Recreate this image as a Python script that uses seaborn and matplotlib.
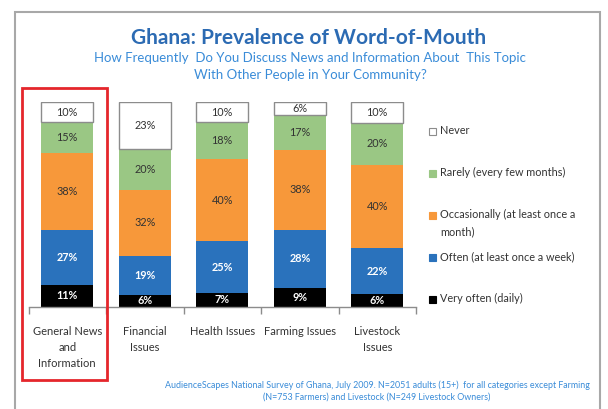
import numpy as np
import pandas as pd
import matplotlib.pyplot as plt
from matplotlib.patches import Rectangle
import seaborn as sns

# data (percent of respondents)
topics = ['General News\nand\nInformation', 'Financial\nIssues', 'Health Issues',
          'Farming Issues', 'Livestock\nIssues']
very_often = [11, 6, 7, 9, 6]
often = [27, 19, 25, 28, 22]
occasionally = [38, 32, 40, 38, 40]
rarely = [15, 20, 18, 17, 20]
never = [10, 23, 10, 6, 10]

series_names = ['Very often (daily)', 'Often (at least once a week)',
                'Occasionally (at least once a\nmonth)', 'Rarely (every few months)', 'Never']
colors = ['#000000', '#2A72BC', '#F7983A', '#9AC784', '#FFFFFF']
label_colors = ['white', 'white', '#333333', '#333333', '#333333']

df = pd.DataFrame({'topic': topics, 'very_often': very_often, 'often': often,
                   'occasionally': occasionally, 'rarely': rarely, 'never': never})
cols = ['very_often', 'often', 'occasionally', 'rarely', 'never']
df['total'] = df[cols].sum(axis=1)

sns.set_theme(style='white')
plt.rcParams['font.family'] = ['Lato', 'DejaVu Sans']

W, H = 608, 409
fig = plt.figure(figsize=(W / 100, H / 100), dpi=100)
ax = fig.add_axes([28.5 / W, (H - 307) / H, 387.5 / W, 205 / H])

# 100% stacked bars
bottom = np.zeros(len(df))
for i, col in enumerate(cols):
    df['share'] = df[col] / df['total'] * 100
    edge = '#8C8C8C' if col == 'never' else colors[i]
    sns.barplot(data=df, x='topic', y='share', order=topics, bottom=bottom,
                color=colors[i], saturation=1, width=0.67,
                edgecolor=edge, linewidth=1.0 if col == 'never' else 0, ax=ax)
    ax.bar_label(ax.containers[-1], labels=[f'{v}%' for v in df[col]],
                 label_type='center', fontsize=7.8, color=label_colors[i],
                 fontweight='bold' if i < 2 else 'normal')
    bottom = bottom + df['share'].to_numpy()

ax.set_ylim(0, 100)
ax.set_xlim(-0.5, 4.5)
ax.set_xlabel('')
ax.set_ylabel('')
ax.set_yticks([])
for s in ['top', 'right', 'left']:
    ax.spines[s].set_visible(False)
ax.spines['bottom'].set_color('#8C8C8C')
ax.spines['bottom'].set_linewidth(1)
ax.set_xticks(np.arange(-0.5, 5, 1), minor=True)
ax.tick_params(axis='x', which='major', length=0, pad=14, labelsize=8, labelcolor='#333333')
ax.tick_params(axis='x', which='minor', length=5, width=1, color='#8C8C8C', bottom=True)
for lbl in ax.get_xticklabels():
    lbl.set_linespacing(1.55)
    lbl.set_verticalalignment('top')

# legend
leg_y = [131, 173, 215, 257, 299]
leg_items = list(zip(series_names, colors))[::-1]
for (name, c), y in zip(leg_items, leg_y):
    ec = '#8C8C8C' if c == '#FFFFFF' else c
    fig.patches.append(Rectangle((429 / W, 1 - (y + 3.5) / H), 6.5 / W, 6.5 / H,
                                 transform=fig.transFigure, facecolor=c, edgecolor=ec,
                                 linewidth=0.8))
    fig.text(440 / W, 1 - (y - 6) / H, name, fontsize=7.8, color='#333333',
             va='top', ha='left', linespacing=1.7)

# titles
fig.text(309 / W, 1 - 38 / H, 'Ghana: Prevalence of Word-of-Mouth', fontsize=15,
         fontweight='bold', color='#2C6BB3', ha='center', va='center')
fig.text(310 / W, 1 - 58 / H, 'How Frequently  Do You Discuss News and Information About  This Topic',
         fontsize=9.5, color='#3A8CD8', ha='center', va='center')
fig.text(310 / W, 1 - 75 / H, 'With Other People in Your Community?',
         fontsize=9.5, color='#3A8CD8', ha='center', va='center')

# source note
fig.text(377 / W, 1 - 391 / H,
         'AudienceScapes National Survey of Ghana, July 2009. N=2051 adults (15+)  for all categories except Farming\n'
         '(N=753 Farmers) and Livestock (N=249 Livestock Owners)',
         fontsize=6.4, color='#3A8CD8', ha='center', va='center', linespacing=1.4)

# outer frame and red highlight box
fig.patches.append(Rectangle((15 / W, -0.05), 585 / W, 1.05 - 12 / H, transform=fig.transFigure,
                             fill=False, edgecolor='#A8A8A8', linewidth=1.5))
fig.patches.append(Rectangle((22 / W, 1 - 380 / H), 85 / W, 292 / H, transform=fig.transFigure,
                             fill=False, edgecolor='#E5262B', linewidth=2))

fig.savefig('out.png', dpi=100, facecolor='white')
